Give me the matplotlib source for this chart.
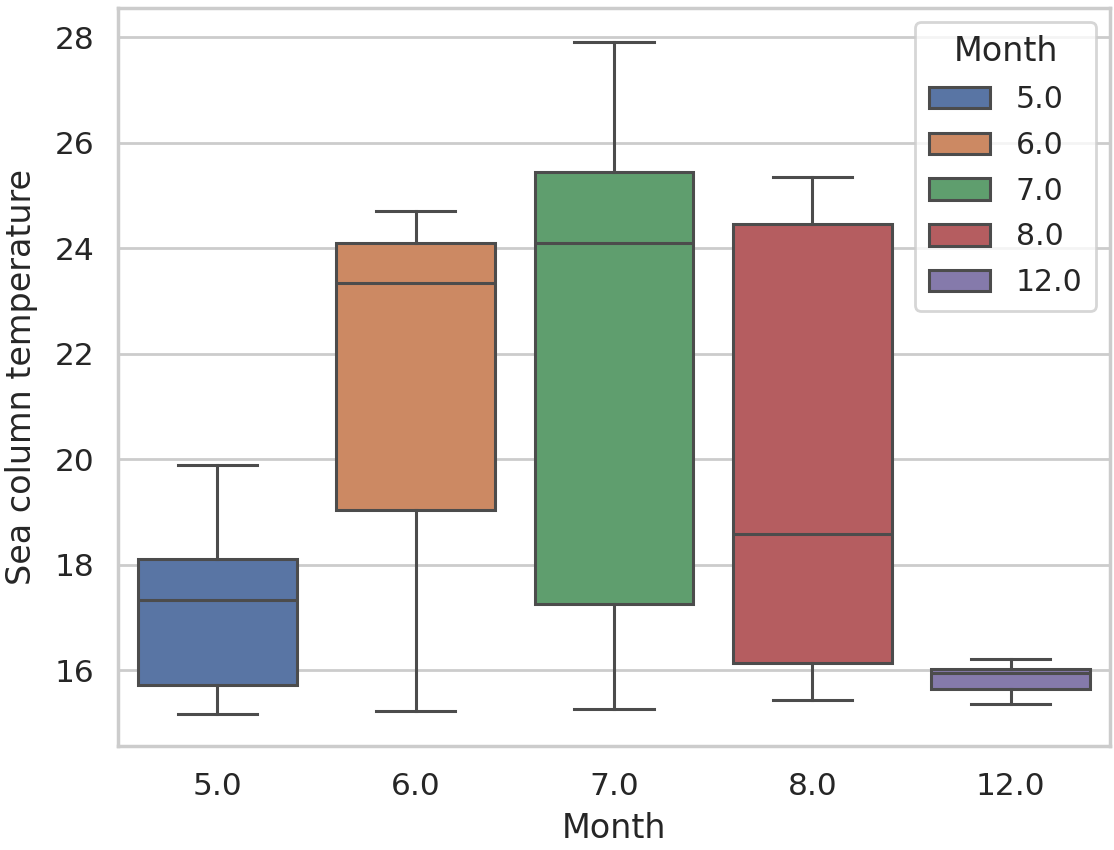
import colorsys
import matplotlib
matplotlib.use("Agg")
import matplotlib.pyplot as plt
import matplotlib.colors as mcolors
from matplotlib.patches import Patch

months = ["5.0", "6.0", "7.0", "8.0", "12.0"]
whislo = [15.17, 15.22, 15.26, 15.43, 15.36]
q1 = [15.72, 19.03, 17.25, 16.13, 15.64]
med = [17.33, 23.34, 24.09, 18.58, 15.94]
q3 = [18.10, 24.09, 25.44, 24.45, 16.02]
whishi = [19.89, 24.70, 27.91, 25.35, 16.21]

deep = ["#4C72B0", "#DD8452", "#55A868", "#C44E52", "#8172B3"]


def desat(c, p=0.75):
    r, g, b = mcolors.to_rgb(c)
    h, l, s = colorsys.rgb_to_hls(r, g, b)
    return colorsys.hls_to_rgb(h, l, s * p)


colors = [desat(c) for c in deep]
lum = min(colorsys.rgb_to_hls(*c)[1] for c in colors) * 0.6
gray = (lum, lum, lum)

plt.rcParams["font.family"] = ["DejaVu Sans"]
fig = plt.figure(figsize=(11.14, 8.5), dpi=100)
ax = fig.add_axes([0.106, 0.1224, 0.8904, 0.8682])
ax.set_facecolor("white")
for s in ax.spines.values():
    s.set_color("#cccccc")
    s.set_linewidth(2.5)
ax.grid(axis="y", color="#cccccc", linewidth=2.0)
ax.set_axisbelow(True)

stats = []
for i in range(len(months)):
    stats.append(dict(whislo=whislo[i], q1=q1[i], med=med[i], q3=q3[i],
                      whishi=whishi[i], fliers=[], label=months[i]))

lw = 2.2
bp = ax.bxp(stats, positions=range(len(months)), widths=0.8, patch_artist=True,
            showfliers=False,
            boxprops=dict(edgecolor=gray, linewidth=lw),
            medianprops=dict(color=gray, linewidth=lw),
            whiskerprops=dict(color=gray, linewidth=lw),
            capprops=dict(color=gray, linewidth=lw), capwidths=0.4)
for patch, c in zip(bp["boxes"], colors):
    patch.set_facecolor(c)

ax.set_xlim(-0.5, len(months) - 0.5)
ax.set_ylim(14.56, 28.55)
ax.set_yticks([16, 18, 20, 22, 24, 26, 28])
ax.set_xticks(range(len(months)))
ax.set_xticklabels(months)
ax.tick_params(axis="both", labelsize=22.5, length=0, colors="#262626")
ax.tick_params(axis="x", pad=19)
ax.tick_params(axis="y", pad=17)
ax.set_xlabel("Month", fontsize=24, color="#262626", labelpad=8)
ax.set_ylabel("Sea column temperature", fontsize=24, color="#262626", labelpad=12)

handles = [Patch(facecolor=c, edgecolor=gray, linewidth=lw, label=m)
           for c, m in zip(colors, months)]
leg = ax.legend(handles=handles, title="Month", loc="upper right",
                fontsize=21.5, title_fontsize=24, frameon=True,
                borderaxespad=0.47, handlelength=2.07, handleheight=0.73,
                labelspacing=0.56, handletextpad=0.85, borderpad=0.45)
leg.get_frame().set_edgecolor("#cccccc")
leg.get_frame().set_linewidth(2.0)
for t in leg.get_texts():
    t.set_color("#262626")
leg.get_title().set_color("#262626")

fig.savefig("out.png", dpi=100, facecolor="white")
